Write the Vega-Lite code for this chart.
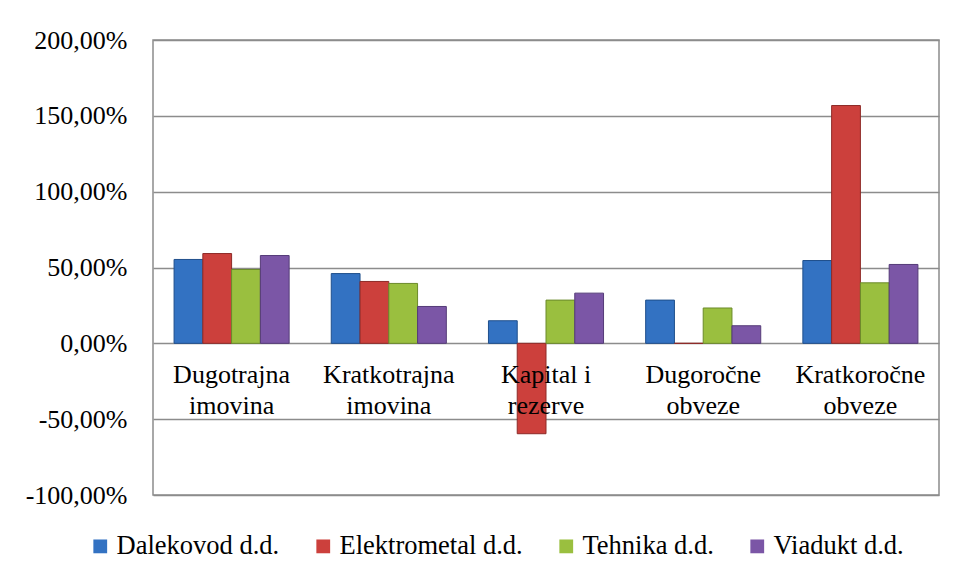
{
  "$schema": "https://vega.github.io/schema/vega-lite/v6.json",
  "width": 786,
  "height": 455,
  "autosize": {"type": "none"},
  "padding": {"left": 153, "top": 40, "right": 18, "bottom": 82},
  "background": "white",
  "data": {
    "values": [
      {"kategorija": "Dugotrajna imovina", "tvrtka": "Dalekovod d.d.", "vrijednost": 0.553},
      {"kategorija": "Dugotrajna imovina", "tvrtka": "Elektrometal d.d.", "vrijednost": 0.592},
      {"kategorija": "Dugotrajna imovina", "tvrtka": "Tehnika d.d.", "vrijednost": 0.487},
      {"kategorija": "Dugotrajna imovina", "tvrtka": "Viadukt d.d.", "vrijednost": 0.579},
      {"kategorija": "Kratkotrajna imovina", "tvrtka": "Dalekovod d.d.", "vrijednost": 0.46},
      {"kategorija": "Kratkotrajna imovina", "tvrtka": "Elektrometal d.d.", "vrijednost": 0.408},
      {"kategorija": "Kratkotrajna imovina", "tvrtka": "Tehnika d.d.", "vrijednost": 0.395},
      {"kategorija": "Kratkotrajna imovina", "tvrtka": "Viadukt d.d.", "vrijednost": 0.243},
      {"kategorija": "Kapital i rezerve", "tvrtka": "Dalekovod d.d.", "vrijednost": 0.149},
      {"kategorija": "Kapital i rezerve", "tvrtka": "Elektrometal d.d.", "vrijednost": -0.596},
      {"kategorija": "Kapital i rezerve", "tvrtka": "Tehnika d.d.", "vrijednost": 0.285},
      {"kategorija": "Kapital i rezerve", "tvrtka": "Viadukt d.d.", "vrijednost": 0.331},
      {"kategorija": "Dugoročne obveze", "tvrtka": "Dalekovod d.d.", "vrijednost": 0.285},
      {"kategorija": "Dugoročne obveze", "tvrtka": "Elektrometal d.d.", "vrijednost": 0.0},
      {"kategorija": "Dugoročne obveze", "tvrtka": "Tehnika d.d.", "vrijednost": 0.233},
      {"kategorija": "Dugoročne obveze", "tvrtka": "Viadukt d.d.", "vrijednost": 0.116},
      {"kategorija": "Kratkoročne obveze", "tvrtka": "Dalekovod d.d.", "vrijednost": 0.546},
      {"kategorija": "Kratkoročne obveze", "tvrtka": "Elektrometal d.d.", "vrijednost": 1.568},
      {"kategorija": "Kratkoročne obveze", "tvrtka": "Tehnika d.d.", "vrijednost": 0.399},
      {"kategorija": "Kratkoročne obveze", "tvrtka": "Viadukt d.d.", "vrijednost": 0.52}
    ]
  },
  "mark": {"type": "bar", "strokeWidth": 1, "strokeOpacity": 1},
  "encoding": {
    "x": {
      "field": "kategorija",
      "type": "nominal",
      "sort": null,
      "scale": {"paddingInner": 0.268, "paddingOuter": 0.134},
      "axis": {
        "title": null,
        "orient": "bottom",
        "offset": -151.5,
        "domain": false,
        "ticks": false,
        "labelAngle": 0,
        "labelFont": "Liberation Serif",
        "labelFontSize": 26,
        "labelColor": "#000000",
        "labelPadding": 18,
        "labelLineHeight": 31,
        "labelBaseline": "top",
        "zindex": 1,
        "labelExpr": "datum.label == 'Kapital i rezerve' ? ['Kapital i', 'rezerve'] : split(datum.label, ' ')"
      }
    },
    "xOffset": {
      "field": "tvrtka",
      "type": "nominal",
      "sort": null,
      "scale": {"paddingInner": 0, "paddingOuter": 0}
    },
    "y": {
      "field": "vrijednost",
      "type": "quantitative",
      "scale": {"domain": [-1, 2], "nice": false, "zero": false},
      "axis": {
        "title": null,
        "values": [-1, -0.5, 0, 0.5, 1, 1.5, 2],
        "format": ".2%",
        "domain": false,
        "ticks": false,
        "grid": true,
        "gridColor": "#8c8c8c",
        "gridWidth": 1.5,
        "labelFont": "Liberation Serif",
        "labelFontSize": 26,
        "labelColor": "#000000",
        "labelPadding": 26
      }
    },
    "color": {
      "field": "tvrtka",
      "type": "nominal",
      "sort": null,
      "scale": {
        "domain": ["Dalekovod d.d.", "Elektrometal d.d.", "Tehnika d.d.", "Viadukt d.d."],
        "range": ["#3372C2", "#CC403C", "#9ABF3F", "#7B56A6"]
      },
      "legend": {
        "title": null,
        "orient": "none",
        "direction": "horizontal",
        "legendX": -66,
        "legendY": 493,
        "symbolType": "square",
        "symbolSize": 190,
        "symbolStrokeWidth": 0,
        "labelFont": "Liberation Serif",
        "labelFontSize": 26.5,
        "labelColor": "#000000",
        "labelOffset": 3,
        "columnPadding": 30,
        "labelLimit": 400
      }
    },
    "stroke": {
      "field": "tvrtka",
      "type": "nominal",
      "sort": null,
      "scale": {
        "domain": ["Dalekovod d.d.", "Elektrometal d.d.", "Tehnika d.d.", "Viadukt d.d."],
        "range": ["#1F4F8C", "#8E2A27", "#6B8A2A", "#553B78"]
      },
      "legend": null
    }
  },
  "config": {
    "locale": {
      "number": {"decimal": ",", "thousands": ".", "grouping": [3], "currency": ["", " €"], "minus": "-"}
    },
    "view": {"stroke": "#8c8c8c", "strokeWidth": 1.5}
  }
}
